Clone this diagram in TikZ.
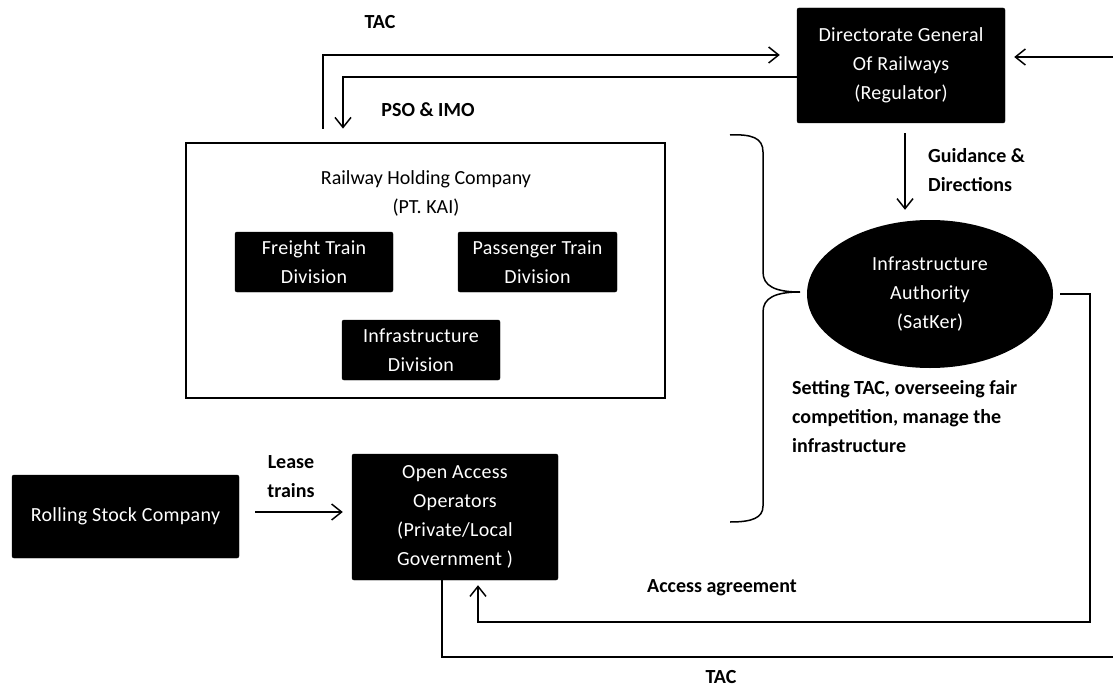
\documentclass[tikz,border=0pt]{standalone}
\usepackage{fontspec}
\setmainfont{Carlito}
\newfontfamily\boxfont[LetterSpace=1.5]{Carlito}
\usetikzlibrary{shapes.geometric,arrows.meta}
\begin{document}
\begin{tikzpicture}[x=1pt,y=-1pt,
  blk/.style={fill=black,draw=black,rounded corners=2pt,text=white,align=center,inner sep=0pt,font=\boxfont\fontsize{20}{29}\selectfont},
  lbl/.style={font=\bfseries\fontsize{20}{29}\selectfont,align=left,inner sep=0pt},
  arr/.style={line width=1.5pt,-{Straight Barb[length=10pt,width=16pt,line width=1.5pt]}},
  ln/.style={line width=1.5pt}]
\useasboundingbox (0,0) rectangle (1113,687);
% nodes
\node[blk,minimum width=208pt,minimum height=115pt] (dgr) at (901,65.5) {Directorate General\\Of Railways\\(Regulator)};
\node[draw=black,line width=2.8pt,minimum width=479pt,minimum height=255pt,inner sep=0pt] (rhc) at (425.5,270.5) {};
\node[font=\fontsize{20}{29}\selectfont,align=center,inner sep=0pt] (rhct) at (426,193) {Railway Holding Company\\(PT. KAI)};
\node[blk,minimum width=158pt,minimum height=60pt] (ftd) at (314,262) {Freight Train\\Division};
\node[blk,minimum width=159pt,minimum height=60pt] (ptd) at (537.5,262) {Passenger Train\\Division};
\node[blk,minimum width=158pt,minimum height=60pt] (idv) at (421,350) {Infrastructure\\Division};
\node[ellipse,fill=black,text=white,align=center,inner sep=0pt,minimum width=246pt,minimum height=148pt,font=\boxfont\fontsize{20}{29}\selectfont] (ia) at (930,294) {Infrastructure\\Authority\\(SatKer)};
\node[blk,minimum width=206pt,minimum height=126pt] (oa) at (455,517) {Open Access\\Operators\\(Private/Local\\Government )};
\node[blk,minimum width=227pt,minimum height=83pt] (rs) at (125.5,516.5) {Rolling Stock Company};
% labels
\node[lbl] (ltac) at (380,22) {TAC};
\node[lbl] (lpso) at (428,110) {PSO \& IMO};
\node[lbl,anchor=west] (lgd) at (928,170) {Guidance \&\\Directions};
\node[lbl,anchor=west] (lset) at (792,417) {Setting TAC, overseeing fair\\competition, manage the\\infrastructure};
\node[lbl,align=center] (llease) at (291,477) {Lease\\trains};
\node[lbl] (lacc) at (722,588) {Access agreement};
\node[lbl] (ltac2) at (721,677) {TAC};
% coordinates
\coordinate (tacx) at (323,55);
\coordinate (psox) at (343,77);
\coordinate (redge) at (1113,57);
\coordinate (gx) at (905,0);
\coordinate (acc) at (1090,622);
\coordinate (accx) at (478,622);
\coordinate (tacb) at (1113,657);
\coordinate (tacv) at (442,0);
\coordinate (ly) at (0,512);
% connectors
\draw[arr,shorten <=13pt,shorten >=17pt] (rhc.north -| tacx) |- (dgr.west |- tacx);
\draw[arr,shorten >=13pt] (dgr.west |- psox) -| (rhc.north -| psox);
\draw[arr,shorten >=9pt] (redge) -- (dgr.east |- redge);
\draw[arr,shorten <=10pt,shorten >=10pt] (dgr.south -| gx) -- (ia.north -| gx);
\draw[arr,shorten >=5pt] ([xshift=7pt]ia.east) -| (acc) -- (accx) -- (oa.south -| accx);
\draw[ln] (oa.south -| tacv) |- (tacb);
\draw[arr,shorten <=16pt,shorten >=9pt] (rs.east |- ly) -- (oa.west |- ly);
% brace
\draw[ln] (730,135) .. controls (752,134) and (763,138) .. (763,152) -- (763,272)
  .. controls (763,286) and (775,292) .. (800,292)
  .. controls (775,292) and (763,298) .. (763,312) -- (763,506)
  .. controls (763,518) and (752,522) .. (730,522);
\end{tikzpicture}
\end{document}
